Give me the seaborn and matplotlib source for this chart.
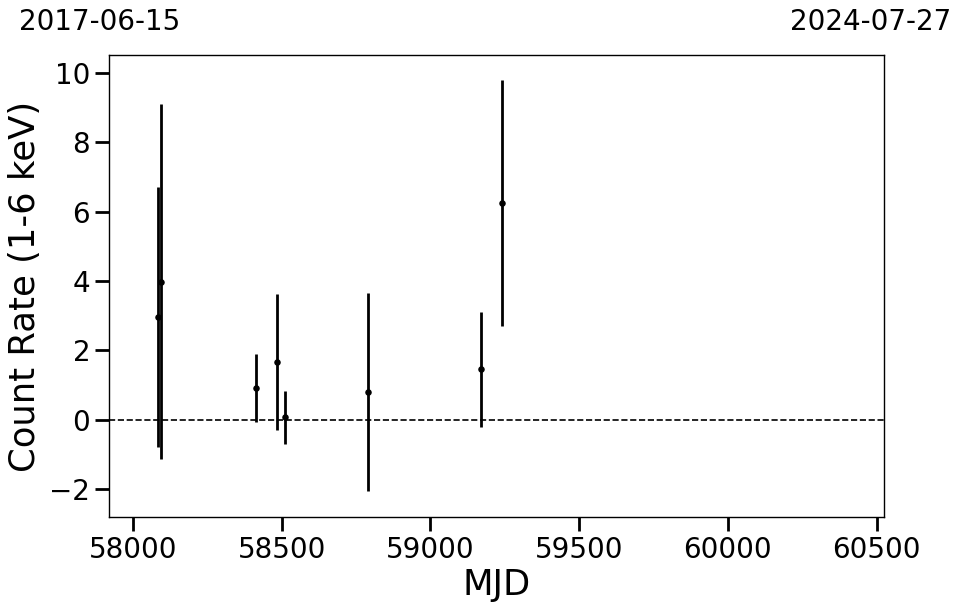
import numpy as np
import pandas as pd
import matplotlib
matplotlib.use('Agg')
import matplotlib.pyplot as plt
import seaborn as sns

# light curve values
mjd = [58084, 58094, 58413, 58484, 58511, 58789, 59169, 59240]
rate = [2.96, 3.98, 0.91, 1.66, 0.07, 0.79, 1.45, 6.24]
rate_err = [3.76, 5.13, 0.98, 1.97, 0.76, 2.86, 1.66, 3.55]

x_limits = [57919, 60525]
y_limits = [-2.81, 10.52]
y_ticks = [-2, 0, 2, 4, 6, 8, 10]
x_ticks = [58000, 58500, 59000, 59500, 60000, 60500]
date_start = '2017-06-15'
date_end = '2024-07-27'

df = pd.DataFrame({'MJD': mjd, 'rate': rate, 'err': rate_err})

sns.set_style('ticks')
plt.rcParams['font.family'] = ['DejaVu Sans']
plt.rcParams['text.color'] = 'black'
plt.rcParams['axes.labelcolor'] = 'black'

W, H = 962, 613
fig = plt.figure(figsize=(W / 100, H / 100), dpi=100)
ax = fig.add_axes([109 / W, 1 - 517 / H, (884 - 109) / W, (517 - 55) / H])

ax.errorbar(df['MJD'], df['rate'], yerr=df['err'], fmt='none',
            ecolor='black', elinewidth=2, capsize=0, zorder=2)
sns.scatterplot(data=df, x='MJD', y='rate', ax=ax, color='black',
                s=22, edgecolor='black', linewidth=0, zorder=3)
ax.axhline(0, color='black', linestyle='--', linewidth=1.2, zorder=1)

ax.set_xlim(x_limits)
ax.set_ylim(y_limits)
ax.set_xticks(x_ticks)
ax.set_yticks(y_ticks)
ax.tick_params(axis='both', labelsize=20, length=10, width=2, direction='out',
               color='black', labelcolor='black')
for sp in ax.spines.values():
    sp.set_color('black')
    sp.set_linewidth(1)

ax.set_xlabel('MJD', fontsize=25.5, labelpad=3, color='black')
ax.set_ylabel('Count Rate (1-6 keV)', fontsize=25.5, labelpad=5, color='black')

fig.text(100 / W, 1 - 22 / H, date_start, fontsize=20, ha='center', va='center',
         color='black')
fig.text(871 / W, 1 - 22 / H, date_end, fontsize=20, ha='center', va='center',
         color='black')

fig.savefig('out.png', dpi=100)
